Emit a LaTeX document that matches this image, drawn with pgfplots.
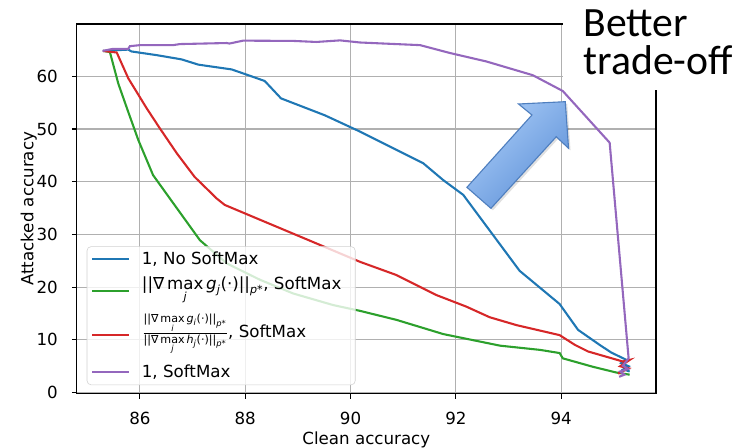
\documentclass[border=0pt]{standalone}
\usepackage{amsmath}
\usepackage{fontspec}
\setmainfont{DejaVu Sans}
\newfontfamily\calibri{Carlito}
\usepackage{pgfplots}
\pgfplotsset{compat=1.18}
\definecolor{tabblue}{HTML}{1F77B4}
\definecolor{tabgreen}{HTML}{2CA02C}
\definecolor{tabred}{HTML}{D62728}
\definecolor{tabpurple}{HTML}{9467BD}
\definecolor{gridgray}{HTML}{B0B0B0}
\definecolor{arrowlight}{HTML}{A8CBF7}
\definecolor{arrowdark}{HTML}{5E91D8}
\definecolor{arrowedge}{HTML}{4F7FBF}
\newcommand{\gn}[2]{\text{||∇}\mathop{\text{max}}\limits_{\textit{#1}}\textit{#2}_{\textit{#1}}\text{(·)||}_{\textit{p}\text{*}}}

\begin{document}
\begin{tikzpicture}[font=\fontsize{12}{14.4}\selectfont]
\useasboundingbox (-55.2pt,-38.5pt) rectangle (478.8pt,283.3pt);
\begin{axis}[
  at={(0pt,0pt)}, anchor=south west,
  scale only axis, width=416.9pt, height=266pt,
  xmin=84.8, xmax=95.8, ymin=-0.2, ymax=69.9,
  xtick={86,88,90,92,94}, ytick={0,10,20,30,40,50,60},
  grid=major, major grid style={color=gridgray, line width=0.8pt},
  axis line style={line width=0.8pt},
  tick align=outside, major tick length=3.5pt,
  tick style={black, line width=0.8pt},
  xtick pos=left, ytick pos=left,
  /pgf/number format/assume math mode=true,
  xlabel={Clean accuracy}, ylabel={Attacked accuracy},
  xlabel style={at={(axis description cs:0.5,-0.1368)}, anchor=base},
  ylabel style={at={(axis description cs:-0.0748,0.5)}, anchor=base},
  xticklabel style={anchor=base, inner sep=0pt, yshift=-18.6pt},
  yticklabel style={anchor=east, inner sep=0pt, xshift=-9.9pt},
  legend cell align=left,
  legend image code/.code={\draw[#1] (0pt,0pt) -- (26.6pt,0pt); \path (33pt,0pt);},
  legend style={at={(0.0173,0.023)}, anchor=south west,
    draw=black!18, rounded corners=3pt, fill=white, fill opacity=0.8, text opacity=1,
    row sep=3pt, inner xsep=3pt, inner ysep=2pt, nodes={text depth=}},
  every axis plot/.append style={line width=1.5pt},
]
\addplot[tabblue] coordinates {
(85.30,64.8) (85.78,65.05) (85.84,64.7) (86.32,64.0) (86.79,63.2) (87.11,62.2)
(87.74,61.3) (88.00,60.4) (88.37,59.1) (88.68,55.8) (89.51,52.6) (90.18,49.5)
(91.38,43.5) (91.76,40.3) (92.14,37.5) (93.21,23.1) (93.97,16.8) (94.32,11.9)
(94.73,9.05) (94.95,7.6) (95.24,6.2) (95.14,5.6) (95.28,5.0) (95.18,4.4) (95.30,4.0)
};
\addlegendentry{1, No SoftMax}
\addplot[tabgreen] coordinates {
(85.30,64.8) (85.43,64.6) (85.59,58.6) (85.78,53.2) (85.97,47.9) (86.25,41.25)
(86.57,36.8) (87.14,28.9) (87.65,24.5) (88.28,21.4) (88.91,18.8) (89.67,16.6)
(90.18,15.5) (90.87,13.8) (91.76,11.1) (92.84,8.9) (93.60,8.1) (93.97,7.5)
(94.03,6.5) (94.60,4.9) (95.05,3.8) (95.30,3.4)
};
\addlegendentry{$\gn{j}{g}$, SoftMax\rule{5pt}{0pt}}
\addplot[tabred] coordinates {
(85.30,64.8) (85.56,64.5) (85.78,59.6) (86.13,53.9) (86.38,50.1) (86.70,45.4)
(87.04,40.9) (87.46,36.8) (87.61,35.6) (87.99,34.0) (89.35,28.3) (90.18,24.8)
(90.87,22.3) (91.63,18.5) (92.20,16.3) (92.64,14.3) (93.15,12.8) (93.97,10.9)
(94.26,9.05) (94.51,7.8) (95.17,5.9) (95.30,6.2) (95.12,5.0) (95.28,4.6) (95.08,3.6)
};
\addlegendentry{$\frac{\gn{i}{g}}{\gn{j}{h}}$, SoftMax\rule[-11.7pt]{0pt}{26.1pt}}
\addplot[tabpurple] coordinates {
(85.29,64.8) (85.49,65.2) (85.78,65.2) (85.81,65.7) (86.00,65.9) (86.63,65.9)
(86.76,66.1) (87.65,66.3) (87.70,66.2) (87.96,66.75) (88.91,66.7) (89.35,66.5)
(89.80,66.8) (90.18,66.4) (91.32,65.9) (91.89,64.4) (92.58,62.8) (93.46,60.2)
(94.03,57.2) (94.92,47.4) (95.28,6.5) (95.17,5.1) (95.27,4.5) (95.12,4.0)
(95.20,3.4) (95.10,3.0)
};
\addlegendentry{1, SoftMax}
\end{axis}
\begin{scope}[x=0.72pt, y=0.72pt, shift={(-55.2pt,-38.5pt)}]
  \fill[white] (563,357) rectangle (742,447);
  \node[anchor=base west, inner sep=0pt, font=\calibri\fontsize{30}{30}\selectfont] at (583,410.3) {Better};
  \node[anchor=base west, inner sep=0pt, font=\calibri\fontsize{30}{30}\selectfont] at (583,372) {trade-off};
  \fill[black, opacity=0.12] (567,343.3) -- (570.3,296.7) -- (558,308.3) -- (492.7,236.7)
     -- (468.7,257.7) -- (533.7,330) -- (520.3,341) -- cycle;
  \shade[left color=arrowlight, right color=arrowdark, shading angle=45]
     (565,345.3) -- (568.3,298.7) -- (556,310.3) -- (490.7,238.7)
     -- (466.7,259.7) -- (531.7,332) -- (518.3,343) -- cycle;
  \draw[arrowedge, line width=0.8pt, line join=miter]
     (565,345.3) -- (568.3,298.7) -- (556,310.3) -- (490.7,238.7)
     -- (466.7,259.7) -- (531.7,332) -- (518.3,343) -- cycle;
\end{scope}
\end{tikzpicture}
\end{document}
